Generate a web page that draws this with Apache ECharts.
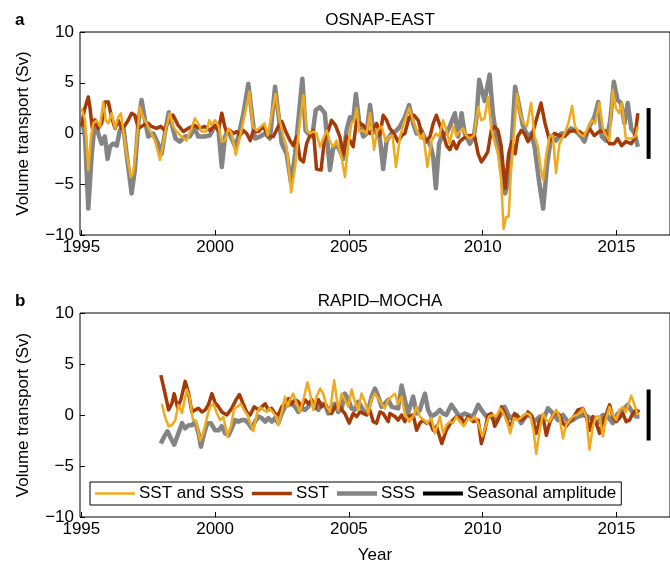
<!DOCTYPE html>
<html>
<head>
<meta charset="utf-8">
<script src="https://cdn.jsdelivr.net/npm/echarts@6/dist/echarts.min.js"></script>
<style>
  html, body { margin: 0; padding: 0; background: #fff; }
  #chart { width: 670px; height: 569px; }
</style>
</head>
<body>
<div id="chart"></div>
<script>
// x ticks (years) and y ticks (Sv)
var yearTicks = [1995, 2000, 2005, 2010, 2015];
var seriesNames = ["SST and SSS", "SST", "SSS", "Seasonal amplitude"];

// panel a: OSNAP-EAST  [year, Sv]
var osnapSstSss = [[1995.01,2.5],[1995.14,1.3],[1995.26,-3.6],[1995.36,-0.3],[1995.45,1.0],[1995.57,1.3],[1995.70,0.7],[1995.82,3.1],[1995.91,1.3],[1996.01,1.0],[1996.13,2.0],[1996.26,0.5],[1996.38,1.6],[1996.48,2.0],[1996.57,0.2],[1996.69,-2.0],[1996.85,-4.3],[1996.94,-3.9],[1997.06,-1.0],[1997.19,2.6],[1997.31,1.6],[1997.44,1.0],[1997.56,0.3],[1997.75,-0.7],[1997.94,-2.6],[1998.06,-1.0],[1998.18,0.7],[1998.31,2.0],[1998.43,0.7],[1998.56,0.2],[1998.74,-0.3],[1998.93,-0.7],[1999.12,0.5],[1999.24,1.5],[1999.37,1.0],[1999.49,0.2],[1999.68,0.2],[1999.78,1.3],[1999.86,0.8],[1999.99,1.3],
  [2000.12,0.8],[2000.25,-0.8],[2000.37,-0.7],[2000.50,0.5],[2000.62,0],[2000.77,-2.1],[2000.90,-0.7],[2001.00,0.5],[2001.12,2.0],[2001.28,4.1],[2001.41,0.7],[2001.55,0.3],[2001.72,0.7],[2001.84,1.0],[2001.97,-0.2],[2002.09,1.6],[2002.26,3.9],[2002.39,1.6],[2002.55,-0.3],[2002.67,-1.3],[2002.84,-5.8],[2002.99,-3.3],[2003.13,0.3],[2003.30,3.8],[2003.42,0.3],[2003.54,0],[2003.67,0.2],[2003.79,0],[2003.92,-1.3],[2004.04,-0.5],[2004.17,0.3],[2004.29,-0.8],[2004.42,-1.3],[2004.54,-0.7],[2004.70,-2.0],[2004.85,-4.3],[2004.98,-1.0],
  [2005.10,1.0],[2005.20,1.3],[2005.29,2.5],[2005.39,0.2],[2005.54,0.3],[2005.66,0],[2005.79,2.0],[2005.94,-1.6],[2006.06,0.3],[2006.22,0.7],[2006.38,-0.8],[2006.51,-0.3],[2006.63,-0.2],[2006.76,-3.3],[2006.91,-0.3],[2007.05,1.0],[2007.25,2.5],[2007.40,1.3],[2007.53,0.3],[2007.68,-0.5],[2007.78,0],[2007.93,-3.3],[2008.09,-0.7],[2008.25,0],[2008.37,-0.3],[2008.52,1.3],[2008.65,0.3],[2008.77,-1.0],[2008.90,0.7],[2009.02,-0.2],[2009.14,0.2],[2009.27,0.5],[2009.39,-0.2],[2009.52,-0.5],[2009.67,-0.2],[2009.83,2.6],[2009.95,1.3],
  [2010.07,1.5],[2010.20,3.6],[2010.32,0.5],[2010.44,-0.8],[2010.57,-2.0],[2010.69,-4.6],[2010.78,-9.4],[2010.88,-8.2],[2010.97,-8.2],[2011.06,-3.6],[2011.16,-0.3],[2011.28,3.9],[2011.40,2.0],[2011.53,1.0],[2011.65,0.7],[2011.81,3.0],[2011.94,-0.3],[2012.06,-1.3],[2012.16,-3.3],[2012.26,-4.6],[2012.37,-2.1],[2012.50,-0.3],[2012.62,-0.2],[2012.74,-3.9],[2012.87,-1.0],[2013.06,0],[2013.20,1.0],[2013.34,2.7],[2013.45,0.7],[2013.61,0],[2013.78,-0.3],[2013.93,0.5],[2014.07,1.3],[2014.20,1.0],[2014.36,3.0],[2014.49,0.5],[2014.61,-0.2],[2014.73,-0.7],[2014.86,4.3],[2014.98,2.5],[2015.10,2.0],[2015.20,3.0],[2015.35,-0.5],[2015.55,-0.5],[2015.70,-0.3],[2015.80,0.7]];

var osnapSst = [[1995.01,0.7],[1995.11,2.3],[1995.26,3.6],[1995.32,2.6],[1995.41,0.5],[1995.51,1.3],[1995.63,0.5],[1995.76,1.0],[1995.88,3.1],[1996.01,3.1],[1996.13,1.6],[1996.26,0.5],[1996.38,1.3],[1996.50,0.5],[1996.63,0.8],[1996.75,1.3],[1996.88,2.0],[1997.00,1.8],[1997.13,0.5],[1997.31,0.8],[1997.50,1.0],[1997.62,0.7],[1997.81,0.5],[1997.97,0.7],[1998.12,0.3],[1998.25,1.3],[1998.43,1.8],[1998.62,0.8],[1998.81,0.2],[1998.99,0.5],[1999.24,0.8],[1999.43,0.5],[1999.61,0.7],[1999.80,0.3],[1999.99,0.8],
  [2000.12,0.3],[2000.25,2.0],[2000.35,0.8],[2000.44,0],[2000.56,0.3],[2000.68,0],[2000.81,0.2],[2000.93,-0.2],[2001.06,0.3],[2001.18,0],[2001.31,-0.7],[2001.43,0.3],[2001.62,0.2],[2001.80,0.7],[2001.99,-0.3],[2002.18,-0.3],[2002.36,0.7],[2002.49,1.2],[2002.64,0.2],[2002.80,-0.7],[2002.92,-1.2],[2003.05,-0.3],[2003.17,-2.5],[2003.30,-2.8],[2003.42,-1.0],[2003.54,-0.2],[2003.67,0.3],[2003.79,-3.5],[2003.96,-3.6],[2004.08,-0.7],[2004.23,0.3],[2004.35,1.3],[2004.50,0.8],[2004.66,-0.3],[2004.79,-2.1],[2004.91,-0.3],
  [2005.04,-0.7],[2005.16,-1.3],[2005.29,1.3],[2005.41,1.0],[2005.54,0.8],[2005.66,0.3],[2005.79,0],[2005.91,0.5],[2006.04,1.0],[2006.16,-0.2],[2006.28,1.8],[2006.41,1.3],[2006.53,0.5],[2006.68,0],[2006.84,-0.8],[2006.97,-0.2],[2007.09,0],[2007.25,1.6],[2007.43,1.8],[2007.59,1.3],[2007.75,-0.3],[2007.88,-0.8],[2008.03,-0.3],[2008.15,1.0],[2008.27,1.8],[2008.40,0.8],[2008.52,0],[2008.65,-1.2],[2008.77,-1.6],[2008.90,-0.8],[2009.02,-1.5],[2009.14,-0.8],[2009.27,-0.5],[2009.46,-0.2],[2009.58,-0.2],[2009.70,-0.3],[2009.83,-2.0],[2009.95,-2.8],
  [2010.08,-2.3],[2010.19,-1.8],[2010.32,0.3],[2010.44,0.7],[2010.57,0.3],[2010.69,-1.2],[2010.84,-5.4],[2010.97,-2.0],[2011.09,-0.8],[2011.21,-2.0],[2011.31,-0.3],[2011.44,0.3],[2011.56,0],[2011.69,-0.8],[2011.84,-0.2],[2012.00,1.3],[2012.18,3.0],[2012.33,1.0],[2012.50,-0.7],[2012.68,0],[2012.87,-0.2],[2013.06,-0.3],[2013.24,0.2],[2013.43,0.3],[2013.61,0.2],[2013.80,-0.2],[2013.99,0.5],[2014.17,-0.2],[2014.36,0.2],[2014.55,0.3],[2014.73,-1.0],[2014.92,-1.0],[2015.04,-0.5],[2015.19,-1.2],[2015.35,-0.8],[2015.55,-1.0],[2015.68,-0.5],[2015.80,2.0]];

var osnapSss = [[1995.01,1.6],[1995.14,-0.3],[1995.26,-7.4],[1995.39,-2.0],[1995.51,1.3],[1995.63,0],[1995.76,-1.0],[1995.88,-0.3],[1995.98,-2.5],[1996.07,-1.3],[1996.19,-1.0],[1996.32,-1.2],[1996.44,0.3],[1996.57,0.7],[1996.69,-2.0],[1996.88,-5.9],[1997.00,-3.6],[1997.13,1.0],[1997.25,3.3],[1997.38,1.3],[1997.50,-0.3],[1997.69,0],[1997.87,-1.0],[1998.00,-2.0],[1998.12,0],[1998.27,2.1],[1998.40,0.7],[1998.52,-0.5],[1998.68,-0.8],[1998.87,-0.3],[1999.05,-0.3],[1999.24,0.5],[1999.37,-0.3],[1999.61,-0.3],[1999.80,-0.2],[1999.99,0.7],
  [2000.12,0.5],[2000.25,-3.3],[2000.37,-0.3],[2000.50,0.3],[2000.62,-0.5],[2000.75,-1.3],[2000.87,-0.3],[2001.06,2.0],[2001.24,4.9],[2001.37,2.0],[2001.49,-0.5],[2001.68,-0.3],[2001.87,0],[2002.05,-0.5],[2002.24,4.6],[2002.36,2.0],[2002.49,-1.0],[2002.67,-2.0],[2002.84,-4.9],[2002.99,-2.0],[2003.11,1.3],[2003.26,5.4],[2003.38,0.3],[2003.48,0],[2003.63,-0.3],[2003.76,2.3],[2003.92,2.6],[2004.10,2.0],[2004.29,-3.6],[2004.42,-1.3],[2004.60,-1.3],[2004.79,-2.5],[2004.91,0.3],
  [2005.04,1.6],[2005.16,1.3],[2005.26,3.9],[2005.39,1.0],[2005.54,-0.3],[2005.66,0],[2005.79,2.8],[2005.91,0.3],[2006.04,0],[2006.16,-0.5],[2006.28,-3.5],[2006.41,-0.7],[2006.59,0],[2006.78,0.3],[2006.91,0.7],[2007.09,1.6],[2007.25,2.8],[2007.40,1.0],[2007.53,0],[2007.71,0.3],[2007.88,-0.7],[2008.03,-1.0],[2008.15,-2.3],[2008.25,-5.4],[2008.37,-1.0],[2008.52,0],[2008.65,0],[2008.77,0.7],[2008.96,2.0],[2009.08,-0.3],[2009.21,2.0],[2009.33,0],[2009.52,-1.0],[2009.67,-0.3],[2009.77,1.6],[2009.87,5.3],
  [2010.07,3.2],[2010.26,5.8],[2010.38,2.0],[2010.51,-0.3],[2010.63,-2.0],[2010.75,-4.6],[2010.84,-5.9],[2010.97,-4.6],[2011.06,-2.0],[2011.21,4.6],[2011.34,3.0],[2011.50,0.8],[2011.69,-0.3],[2011.81,0],[2011.94,-1.3],[2012.10,-4.6],[2012.26,-7.4],[2012.41,-3.0],[2012.56,-0.3],[2012.74,-0.7],[2012.93,0],[2013.12,0],[2013.30,0.5],[2013.49,0.2],[2013.68,-0.3],[2013.80,-0.8],[2013.99,0.7],[2014.17,1.6],[2014.32,3.1],[2014.45,-0.3],[2014.61,-0.7],[2014.77,1.3],[2014.90,5.1],[2015.04,3.3],[2015.17,3.0],[2015.30,1.0],[2015.42,3.0],[2015.55,0.5],[2015.68,0],[2015.80,-1.3]];

// panel b: RAPID-MOCHA  [year, Sv]
var rapidSstSss = [[1998.01,1.1],[1998.13,-0.2],[1998.26,-1.1],[1998.38,-1.0],[1998.51,-0.5],[1998.63,1.0],[1998.76,0.2],[1998.94,2.5],[1999.04,1.8],[1999.17,-0.5],[1999.29,-0.65],[1999.44,-2.5],[1999.56,-1.8],[1999.69,-0.3],[1999.81,0.8],[1999.94,1.1],
  [2000.06,0.2],[2000.19,-0.5],[2000.31,-0.2],[2000.46,-2.1],[2000.59,-1.1],[2000.71,0.65],[2000.83,0.8],[2000.96,1.1],[2001.08,0.5],[2001.21,0],[2001.31,-0.8],[2001.43,-1.6],[2001.56,0.15],[2001.68,0.8],[2001.80,0.5],[2001.93,0.3],[2002.03,0.65],[2002.15,0.3],[2002.28,-0.15],[2002.36,-1.0],[2002.49,0.3],[2002.61,1.8],[2002.70,0.8],[2002.80,1.5],[2002.92,2.1],[2003.05,1.1],[2003.17,0.3],[2003.30,1.5],[2003.45,3.2],[2003.55,2.1],[2003.67,0.5],[2003.79,1.8],[2003.92,2.6],[2004.04,2.1],[2004.17,0.8],[2004.29,0.3],[2004.45,3.4],[2004.52,2.1],[2004.60,0.5],[2004.73,2.1],[2004.85,1.5],[2004.98,0.8],
  [2005.10,2.5],[2005.22,1.3],[2005.35,0.5],[2005.47,2.1],[2005.60,1.3],[2005.72,0.15],[2005.85,1.5],[2005.97,2.1],[2006.10,1.6],[2006.22,1.1],[2006.34,0.65],[2006.47,1.5],[2006.53,1.5],[2006.72,2.1],[2006.84,1.1],[2006.97,1.8],[2007.09,0.15],[2007.25,-0.65],[2007.40,-0.15],[2007.53,0.8],[2007.65,-0.15],[2007.80,-0.5],[2007.92,-0.8],[2008.08,-0.3],[2008.21,-1.8],[2008.33,-0.8],[2008.40,-0.15],[2008.52,-1.8],[2008.64,-1.0],[2008.77,-0.65],[2008.89,-0.8],[2009.02,-0.15],[2009.14,-0.65],[2009.29,-1.1],[2009.45,-0.3],[2009.58,-0.5],[2009.70,-0.15],[2009.83,-0.8],[2009.99,-2.1],
  [2010.11,-1.1],[2010.24,-0.15],[2010.39,0],[2010.51,-0.15],[2010.66,0.65],[2010.78,0.15],[2010.91,-0.65],[2011.03,-1.8],[2011.16,-0.3],[2011.28,-0.5],[2011.41,-0.3],[2011.53,0],[2011.65,0.15],[2011.78,0],[2011.90,-1.5],[2012.00,-3.8],[2012.13,-1.5],[2012.25,0.15],[2012.38,-0.5],[2012.50,-0.65],[2012.63,0],[2012.75,0.5],[2012.87,-0.15],[2013.00,-2.3],[2013.12,-1.0],[2013.25,-0.5],[2013.37,-0.15],[2013.50,0],[2013.62,0.15],[2013.74,0.65],[2013.87,-0.15],[2013.99,-3.4],[2014.12,-1.1],[2014.24,-0.15],[2014.37,-0.15],[2014.49,-2.1],[2014.61,-0.3],[2014.74,0.8],[2014.86,0],[2014.99,-0.5],[2015.11,0.5],[2015.24,0.8],[2015.36,0.3],[2015.55,1.9],[2015.67,1.0],[2015.80,0]];

var rapidSst = [[1997.97,3.9],[1998.13,2.1],[1998.26,0.5],[1998.38,1.1],[1998.47,2.1],[1998.60,0.7],[1998.72,1.5],[1998.88,3.3],[1999.01,2.1],[1999.13,0.3],[1999.25,0.5],[1999.38,0.65],[1999.50,0.3],[1999.63,0.5],[1999.75,1.0],[1999.88,2.1],
  [2000.00,1.2],[2000.13,0.8],[2000.25,0.3],[2000.44,0],[2000.62,0.65],[2000.78,1.5],[2000.91,2.0],[2001.03,1.2],[2001.18,0.3],[2001.31,0],[2001.46,0.8],[2001.62,0.5],[2001.74,0.8],[2001.87,1.1],[2001.99,0.5],[2002.11,0.65],[2002.24,0.15],[2002.36,0],[2002.49,0.8],[2002.61,1.1],[2002.74,1.6],[2002.86,1.1],[2002.99,1.5],[2003.11,1.3],[2003.23,0.8],[2003.36,1.5],[2003.48,1.1],[2003.61,1.5],[2003.73,0.65],[2003.86,1.5],[2003.98,0.8],[2004.11,1.1],[2004.23,0.5],[2004.35,0.15],[2004.48,0.8],[2004.60,1.1],[2004.73,0.5],[2004.85,0.15],
  [2005.01,-0.8],[2005.16,0.15],[2005.29,-0.15],[2005.41,0.3],[2005.54,0.15],[2005.66,0],[2005.78,0.5],[2005.91,-0.65],[2006.03,-0.8],[2006.16,0.3],[2006.28,0.15],[2006.47,-0.65],[2006.53,0.15],[2006.72,-0.15],[2006.84,-0.5],[2006.97,0],[2007.09,-0.65],[2007.21,-0.15],[2007.40,0],[2007.53,-1.5],[2007.65,-0.8],[2007.77,-0.5],[2007.90,-0.8],[2008.02,-0.65],[2008.15,-1.5],[2008.27,-1.1],[2008.47,-2.8],[2008.64,-1.5],[2008.83,-0.65],[2009.02,-0.15],[2009.20,-0.3],[2009.33,-0.8],[2009.45,-0.15],[2009.64,-0.65],[2009.83,-0.5],[2009.95,-2.8],
  [2010.08,-1.5],[2010.20,0],[2010.32,0.15],[2010.45,-1.1],[2010.57,-0.5],[2010.70,0.8],[2010.82,0.15],[2010.95,-0.8],[2011.07,-1.0],[2011.19,0.15],[2011.32,-0.15],[2011.44,-0.5],[2011.57,-0.3],[2011.69,0.3],[2011.82,0],[2012.00,-1.8],[2012.13,-0.5],[2012.25,-0.15],[2012.38,-2.0],[2012.50,-0.8],[2012.63,0],[2012.75,0.3],[2012.87,0],[2013.00,-0.8],[2013.12,-1.1],[2013.25,-0.65],[2013.37,-0.3],[2013.56,0.5],[2013.74,0.65],[2013.87,-0.15],[2013.99,-1.5],[2014.12,-0.15],[2014.24,-0.8],[2014.37,-1.8],[2014.49,-0.65],[2014.61,0],[2014.74,1.0],[2014.86,-0.15],[2014.99,-0.65],[2015.11,-0.3],[2015.24,0.15],[2015.36,-0.65],[2015.49,-0.5],[2015.61,0.15],[2015.73,0.5],[2015.86,0.3]];

var rapidSss = [[1997.97,-2.8],[1998.10,-2.1],[1998.22,-1.6],[1998.35,-2.3],[1998.47,-2.9],[1998.60,-2.0],[1998.76,-0.8],[1998.88,-1.3],[1999.01,-1.0],[1999.13,-1.0],[1999.25,-0.65],[1999.38,-1.8],[1999.47,-3.1],[1999.59,-1.8],[1999.71,-0.8],[1999.84,-0.8],
  [2000.00,-1.5],[2000.13,-1.5],[2000.25,-1.1],[2000.37,-1.8],[2000.50,-2.0],[2000.62,-1.3],[2000.75,-0.5],[2000.87,-0.65],[2000.99,-0.5],[2001.12,-0.5],[2001.24,-0.8],[2001.37,-1.3],[2001.49,-0.65],[2001.62,-0.15],[2001.74,-0.3],[2001.87,-0.65],[2001.99,-0.3],[2002.12,-0.65],[2002.24,-0.3],[2002.36,-0.8],[2002.49,0.15],[2002.61,0.8],[2002.74,1.0],[2002.86,1.1],[2002.99,0.8],[2003.11,0.3],[2003.23,0.65],[2003.36,0.5],[2003.48,0.8],[2003.61,1.3],[2003.73,0.8],[2003.86,0.5],[2003.98,1.1],[2004.11,1.0],[2004.23,0.15],[2004.35,0.8],[2004.48,1.1],[2004.60,0.3],[2004.73,0.65],[2004.85,2.1],[2004.98,1.5],
  [2005.10,0.65],[2005.22,0.5],[2005.35,1.3],[2005.47,0.8],[2005.60,0.15],[2005.72,0.5],[2005.85,1.8],[2005.97,2.6],[2006.10,1.8],[2006.22,0.8],[2006.34,1.1],[2006.47,1.5],[2006.60,0.8],[2006.84,0.65],[2006.97,2.9],[2007.09,1.5],[2007.21,0.15],[2007.40,1.8],[2007.53,0.15],[2007.65,0.5],[2007.84,2.1],[2007.96,0.5],[2008.08,-0.15],[2008.27,0.15],[2008.40,0.5],[2008.52,0.15],[2008.64,0],[2008.83,1.0],[2008.96,0.5],[2009.14,-0.15],[2009.33,0.15],[2009.45,0],[2009.64,-0.15],[2009.83,1.0],[2009.95,0.5],
  [2010.14,-0.15],[2010.32,-0.15],[2010.51,-0.5],[2010.63,-0.15],[2010.82,0.8],[2011.01,-0.3],[2011.26,0],[2011.44,-0.8],[2011.63,0],[2011.82,-0.15],[2011.94,-0.65],[2012.13,-0.15],[2012.31,-0.15],[2012.44,0.65],[2012.63,0.15],[2012.81,-0.5],[2013.00,0],[2013.18,-0.65],[2013.37,-0.5],[2013.56,-0.15],[2013.74,0],[2013.93,-0.15],[2014.12,-0.5],[2014.30,-0.8],[2014.49,0],[2014.68,-0.15],[2014.86,-0.8],[2015.05,0.15],[2015.24,0.5],[2015.42,1.0],[2015.59,0.3],[2015.73,-0.15],[2015.86,-0.15]];

// seasonal amplitude bars [year, low, high]
var seasonalOsnap = [2016.2, -2.5, 2.5];
var seasonalRapid = [2016.2, -2.5, 2.5];

var colorBoth = "#f0aa1e";
var colorSst = "#a33a08";
var colorSss = "#848484";
var fontName = "Liberation Sans";

var chart = echarts.init(document.getElementById("chart"), null, {renderer: "canvas"});

function makeX(idx, withName) {
    return {
        type: "value",
        gridIndex: idx,
        min: 1994.95,
        max: 2017,
        name: withName ? "Year" : "",
        nameLocation: "middle",
        nameGap: 30,
        nameTextStyle: {color: "#000", fontSize: 17, fontFamily: fontName},
        axisLine: {show: false, onZero: false},
        splitLine: {show: false},
        axisTick: {show: true, inside: true, length: 5, customValues: yearTicks, lineStyle: {color: "#000"}},
        axisLabel: {
            customValues: yearTicks, color: "#000", fontSize: 17, fontFamily: fontName, margin: 4,
            formatter: function (v) { return String(v); }
        }
    };
}

function makeY(idx) {
    return {
        type: "value",
        gridIndex: idx,
        min: -10,
        max: 10,
        interval: 5,
        name: "Volume transport (Sv)",
        nameLocation: "middle",
        nameGap: 48,
        nameTextStyle: {color: "#000", fontSize: 17, fontFamily: fontName},
        axisLine: {show: false, onZero: false},
        splitLine: {show: false},
        axisTick: {show: true, inside: true, length: 5, lineStyle: {color: "#000"}},
        axisLabel: {
            color: "#000", fontSize: 17, fontFamily: fontName, margin: 6,
            formatter: function (v) { return String(v).replace("-", "\u2212"); }
        }
    };
}

function lineSeries(name, data, idx, color, width) {
    return {
        name: name,
        type: "line",
        xAxisIndex: idx,
        yAxisIndex: idx,
        data: data,
        symbol: "none",
        showSymbol: false,
        animation: false,
        lineStyle: {color: color, width: width, join: "round"},
        itemStyle: {color: color}
    };
}

function barSeries(bar, idx) {
    return lineSeries(seriesNames[3], [[bar[0], bar[1]], [bar[0], bar[2]]], idx, "#000", 4);
}

// legend swatches: plain strokes, thickness like the lines
function swatch(h) {
    return "path://M0,0H40V" + h + "H0Z";
}

var option = {
    backgroundColor: "#fff",
    animation: false,
    title: [
        {text: "a", left: 10, top: 7, textStyle: {fontSize: 17, fontWeight: "bold", fontFamily: fontName, color: "#000"}},
        {text: "OSNAP-EAST", left: 375, top: 7, textAlign: "center", textStyle: {fontSize: 17, fontWeight: "normal", fontFamily: fontName, color: "#000"}},
        {text: "b", left: 10, top: 288, textStyle: {fontSize: 17, fontWeight: "bold", fontFamily: fontName, color: "#000"}},
        {text: "RAPID\u2013MOCHA", left: 375, top: 288, textAlign: "center", textStyle: {fontSize: 17, fontWeight: "normal", fontFamily: fontName, color: "#000"}}
    ],
    legend: {
        data: [
            {name: seriesNames[0], icon: swatch(2.5)},
            {name: seriesNames[1], icon: swatch(3.5)},
            {name: seriesNames[2], icon: swatch(4.5)},
            {name: seriesNames[3], icon: swatch(4)}
        ],
        left: 90,
        top: 482,
        padding: [3, 5, 3, 5],
        itemGap: 8,
        itemWidth: 40,
        itemHeight: 16,
        symbolKeepAspect: true,
        borderColor: "#000",
        borderWidth: 1,
        textStyle: {color: "#000", fontSize: 17, fontFamily: fontName, padding: [0, 0, 0, -1]}
    },
    grid: [
        {left: 80, right: -1, top: 32, height: 203, show: true, borderColor: "#000", borderWidth: 1, backgroundColor: "transparent"},
        {left: 80, right: -1, top: 313, height: 204, show: true, borderColor: "#000", borderWidth: 1, backgroundColor: "transparent"}
    ],
    xAxis: [makeX(0, false), makeX(1, true)],
    yAxis: [makeY(0), makeY(1)],
    series: [
        lineSeries(seriesNames[2], osnapSss, 0, colorSss, 4.5),
        lineSeries(seriesNames[1], osnapSst, 0, colorSst, 3.5),
        lineSeries(seriesNames[0], osnapSstSss, 0, colorBoth, 2.5),
        barSeries(seasonalOsnap, 0),
        lineSeries(seriesNames[2], rapidSss, 1, colorSss, 4.5),
        lineSeries(seriesNames[1], rapidSst, 1, colorSst, 3.5),
        lineSeries(seriesNames[0], rapidSstSss, 1, colorBoth, 2.5),
        barSeries(seasonalRapid, 1)
    ]
};

chart.setOption(option);
</script>
</body>
</html>
